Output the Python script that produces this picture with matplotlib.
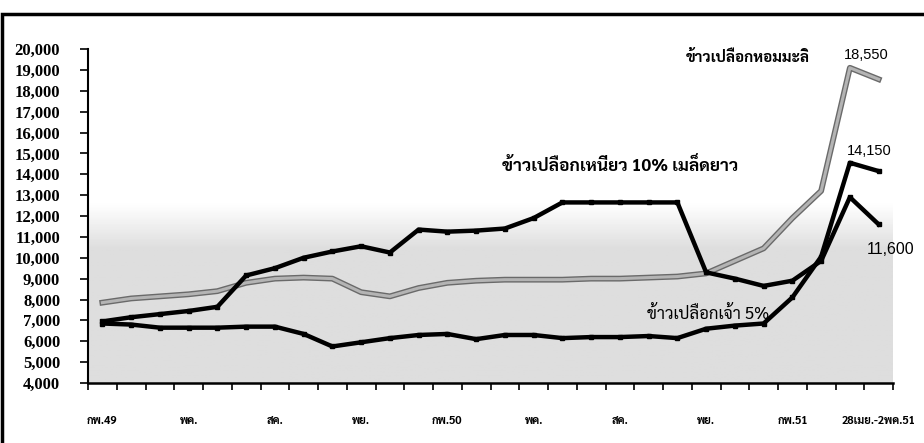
import numpy as np
import matplotlib
matplotlib.use('Agg')
import matplotlib.pyplot as plt
import matplotlib.patheffects as pe
from matplotlib import font_manager
from matplotlib.patches import Rectangle

# ราคาข้าวเปลือก (บาท/ตัน) ก.พ.49 - 28เม.ย.-2พ.ค.51
categories = ['กพ.49', '', '', 'พค.', '', '', 'สค.', '', '', 'พย.', '', '',
              'กพ.50', '', '', 'พค.', '', '', 'สค.', '', '', 'พย.', '', '',
              'กพ.51', '', '', '28เมย.-2พค.51']
hommali = [7850, 8050, 8150, 8250, 8400, 8800, 9000, 9050, 9000, 8350, 8150, 8550,
           8800, 8900, 8950, 8950, 8950, 9000, 9000, 9050, 9100, 9250, 9850, 10450,
           11900, 13200, 19100, 18550]
glutinous = [6950, 7150, 7300, 7450, 7650, 9150, 9500, 10000, 10300, 10550, 10250, 11350,
             11250, 11300, 11400, 11900, 12650, 12650, 12650, 12650, 12650, 9300, 9000, 8650,
             8900, 9850, 12900, 11600]
white5 = [6850, 6800, 6650, 6650, 6650, 6700, 6700, 6350, 5750, 5950, 6150, 6300,
          6350, 6100, 6300, 6300, 6150, 6200, 6200, 6250, 6150, 6600, 6750, 6850,
          8100, 10050, 14550, 14150]

# หา font ภาษาไทยที่มีตัวหนา
bold_names = set(f.name for f in font_manager.fontManager.ttflist
                 if f.weight in (700, 'bold'))
thai_font = 'DejaVu Sans'
for n in ['Sarabun', 'Noto Sans Thai Looped', 'Noto Sans Thai', 'Athiti']:
    if n in bold_names:
        thai_font = n
        break

x = np.arange(len(categories))

fig = plt.figure(figsize=(9.24, 4.43), dpi=100)
ax = fig.add_axes([88/924, 60/443, 805/924, 334/443])

# พื้นหลังไล่สีเทา
yy = np.linspace(20000, 4000, 200)
grad = np.clip(1 - (12600 - yy[:, None]) / 2000 * 0.12, 0.87, 1.0) * np.ones((1, 2))
ax.imshow(grad, extent=[-0.5, 27.5, 4000, 20000], aspect='auto', cmap='gray',
          vmin=0, vmax=1, zorder=0)

ax.plot(x, hommali, color='#b4b4b4', lw=2.2, zorder=3,
        path_effects=[pe.Stroke(linewidth=4.2, foreground='#6a6a6a'), pe.Normal()])
ax.plot(x, glutinous, color='black', lw=3.2, marker='s', ms=3, zorder=4)
ax.plot(x, white5, color='black', lw=3.2, marker='s', ms=3, zorder=4)

ax.set_xlim(-0.5, 27.5)
ax.set_ylim(4000, 20000)
ax.set_yticks(range(4000, 20001, 1000))
ax.set_yticklabels(['{:,}'.format(v) for v in range(4000, 20001, 1000)],
                   fontfamily='Liberation Serif', fontweight='bold', fontsize=12)
ax.tick_params(axis='y', length=6, width=1.2, pad=14)

ax.set_xticks(np.arange(-0.5, 28, 1))
ax.set_xticklabels([])
ax.tick_params(axis='x', length=5, width=1.2)
ax.set_xticks(x, minor=True)
ax.set_xticklabels(categories, minor=True, fontfamily=thai_font, fontweight='bold',
                   fontsize=8)
ax.tick_params(axis='x', which='minor', length=0, pad=23)

for s in ['top', 'right']:
    ax.spines[s].set_visible(False)
ax.spines['left'].set_linewidth(1.5)
ax.spines['bottom'].set_linewidth(1.8)

ax.text(24.6, 19600, 'ข้าวเปลือกหอมมะลิ', ha='right', va='center',
        fontfamily=thai_font, fontweight='bold', fontsize=11)
ax.text(25.8, 19720, '18,550', ha='left', va='center', fontfamily='Liberation Sans',
        fontsize=10.5)
ax.text(18.0, 14400, 'ข้าวเปลือกเหนียว 10% เมล็ดยาว', ha='center', va='center',
        fontfamily=thai_font, fontweight='bold', fontsize=12.5)
ax.text(25.9, 15100, '14,150', ha='left', va='center', fontfamily='Liberation Sans',
        fontsize=10.5)
ax.text(26.6, 10400, '11,600', ha='left', va='center', fontfamily='Liberation Sans',
        fontsize=11.5)
ax.text(18.95, 7270, 'ข้าวเปลือกเจ้า 5%', ha='left', va='center',
        fontfamily=thai_font, fontsize=12)

# กรอบนอก
fig.patches.append(Rectangle((2/924, -0.1), 1.2, (443 - 14)/443 + 0.1,
                             transform=fig.transFigure, fill=False, lw=2.5,
                             edgecolor='black', clip_on=False))

fig.savefig('out.png', dpi=100)
